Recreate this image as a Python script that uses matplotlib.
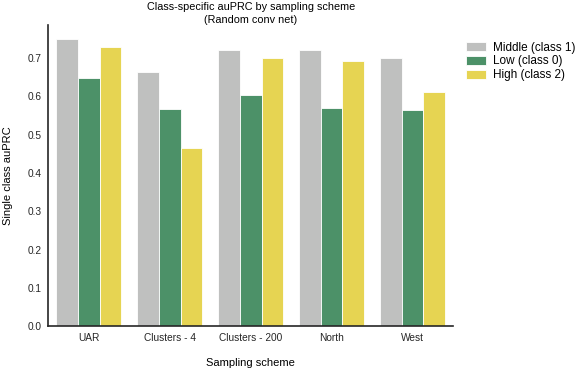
import numpy as np
import matplotlib
matplotlib.use("Agg")
import matplotlib.pyplot as plt

schemes = ["UAR", "Clusters - 4", "Clusters - 200", "North", "West"]
series_names = ["Middle (class 1)", "Low (class 0)", "High (class 2)"]
middle = [0.749, 0.663, 0.721, 0.721, 0.701]
low = [0.647, 0.566, 0.604, 0.569, 0.563]
high = [0.728, 0.464, 0.700, 0.693, 0.611]
colors = ["#bfc0bf", "#4c9168", "#e6d452"]

plt.rcParams["font.family"] = ["Liberation Sans", "DejaVu Sans"]

fig = plt.figure(figsize=(5.81, 3.74), dpi=100)
ax = fig.add_axes([0.083, 0.128, 0.697, 0.805])

x = np.arange(len(schemes))
w = 0.8 / 3
for i, (vals, name) in enumerate(zip([middle, low, high], series_names)):
    ax.bar(x + (i - 1) * w, vals, width=w, color=colors[i], edgecolor="white",
           linewidth=0.6, label=name)

ax.set_xlim(-0.5, len(schemes) - 0.5)
ax.set_ylim(0, 0.786)
ax.set_yticks(np.arange(0, 0.71, 0.1))
ax.set_xticks(x)
ax.set_xticklabels(schemes)
ax.tick_params(axis="both", labelsize=7.3, colors="#262626", length=0, pad=5)
for s in ["top", "right"]:
    ax.spines[s].set_visible(False)
for s in ["left", "bottom"]:
    ax.spines[s].set_linewidth(1.2)
    ax.spines[s].set_color("#262626")

ax.set_xlabel("Sampling scheme", fontsize=8, labelpad=11)
ax.set_ylabel("Single class auPRC", fontsize=8, labelpad=10)
ax.set_title("Class-specific auPRC by sampling scheme\n(Random conv net)",
             fontsize=7.8, linespacing=1.35, pad=-2)
ax.legend(loc="upper left", bbox_to_anchor=(1.005, 0.98), frameon=False,
          fontsize=8.5, handlelength=1.7, handleheight=0.8,
          labelspacing=0.15, handletextpad=0.6)

fig.savefig("out.png", dpi=100)
